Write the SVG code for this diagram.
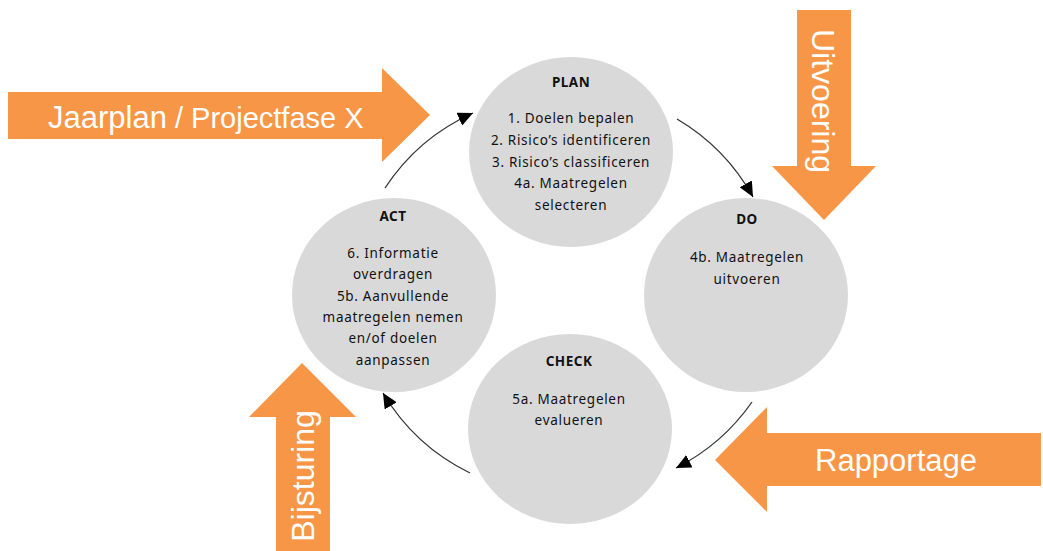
<svg xmlns="http://www.w3.org/2000/svg" width="1043" height="551" viewBox="0 0 1043 551">
<style>
.c{fill:#d9d9d9}
.t{font-family:"Noto Sans","Open Sans",sans-serif;font-size:13.5px;letter-spacing:0.7px;fill:#111;text-anchor:middle}
.h{font-family:"Noto Sans","Open Sans",sans-serif;font-size:13.5px;font-weight:bold;letter-spacing:0.5px;fill:#111;text-anchor:middle}
.o{fill:#f79646}
.w{font-family:"Liberation Sans",Arial,sans-serif;fill:#fff}
.k{fill:none;stroke:#333;stroke-width:1.3}
</style>
<defs>
<marker id="ah" markerUnits="userSpaceOnUse" markerWidth="16" markerHeight="14" refX="15" refY="7" orient="auto">
<path d="M0,0 L15,7 L0,14 Z" fill="#000"/>
</marker>
</defs>
<g id="arrow-jaarplan">
<polygon class="o" points="8,92 382,92 382,68 430,115 382,162 382,139 8,139"/>
<text class="w" x="48" y="128"><tspan font-size="31">Jaarplan</tspan><tspan font-size="29"> / Projectfase X</tspan></text>
</g>
<g id="arrow-uitvoering">
<polygon class="o" points="797,10 851,10 851,166 876,166 824,220 772,166 797,166"/>
<text class="w" font-size="32" text-anchor="middle" transform="translate(812,101) rotate(90)">Uitvoering</text>
</g>
<g id="arrow-rapportage">
<polygon class="o" points="1041,433 767,433 767,407 715,460 767,512 767,486 1041,486"/>
<text class="w" font-size="31" x="815" y="471">Rapportage</text>
</g>
<g id="arrow-bijsturing">
<polygon class="o" points="276,551 276,417 249,417 302,363 356,417 330,417 330,551"/>
<text class="w" font-size="32" text-anchor="middle" transform="translate(314,476) rotate(-90)">Bijsturing</text>
</g>
<g id="connectors">
<path class="k" d="M385,188 A207,207 0 0 1 473,113" marker-end="url(#ah)"/>
<path class="k" d="M677,119 A207,207 0 0 1 753,197" marker-end="url(#ah)"/>
<path class="k" d="M752,402 A207,207 0 0 1 676,468" marker-end="url(#ah)"/>
<path class="k" d="M470,473 A207,207 0 0 1 383,393" marker-end="url(#ah)"/>
</g>
<g id="plan">
<ellipse class="c" cx="571" cy="152" rx="102" ry="95"/>
<text class="h" x="571" y="87">PLAN</text>
<text class="t" x="571" y="123">1. Doelen bepalen</text>
<text class="t" x="571" y="145">2. Risico’s identificeren</text>
<text class="t" x="571" y="167">3. Risico’s classificeren</text>
<text class="t" x="571" y="188">4a. Maatregelen</text>
<text class="t" x="571" y="210">selecteren</text>
</g>
<g id="do">
<ellipse class="c" cx="746" cy="295" rx="102" ry="97"/>
<text class="h" x="747" y="224">DO</text>
<text class="t" x="747" y="262">4b. Maatregelen</text>
<text class="t" x="747" y="284">uitvoeren</text>
</g>
<g id="check">
<ellipse class="c" cx="570" cy="429" rx="102" ry="95"/>
<text class="h" x="569" y="366">CHECK</text>
<text class="t" x="569" y="404">5a. Maatregelen</text>
<text class="t" x="569" y="425">evalueren</text>
</g>
<g id="act">
<ellipse class="c" cx="394" cy="295" rx="102" ry="97"/>
<text class="h" x="393" y="221">ACT</text>
<text class="t" x="393" y="258">6. Informatie</text>
<text class="t" x="393" y="279">overdragen</text>
<text class="t" x="393" y="301">5b. Aanvullende</text>
<text class="t" x="393" y="322">maatregelen nemen</text>
<text class="t" x="393" y="343">en/of doelen</text>
<text class="t" x="393" y="365">aanpassen</text>
</g>
</svg>
